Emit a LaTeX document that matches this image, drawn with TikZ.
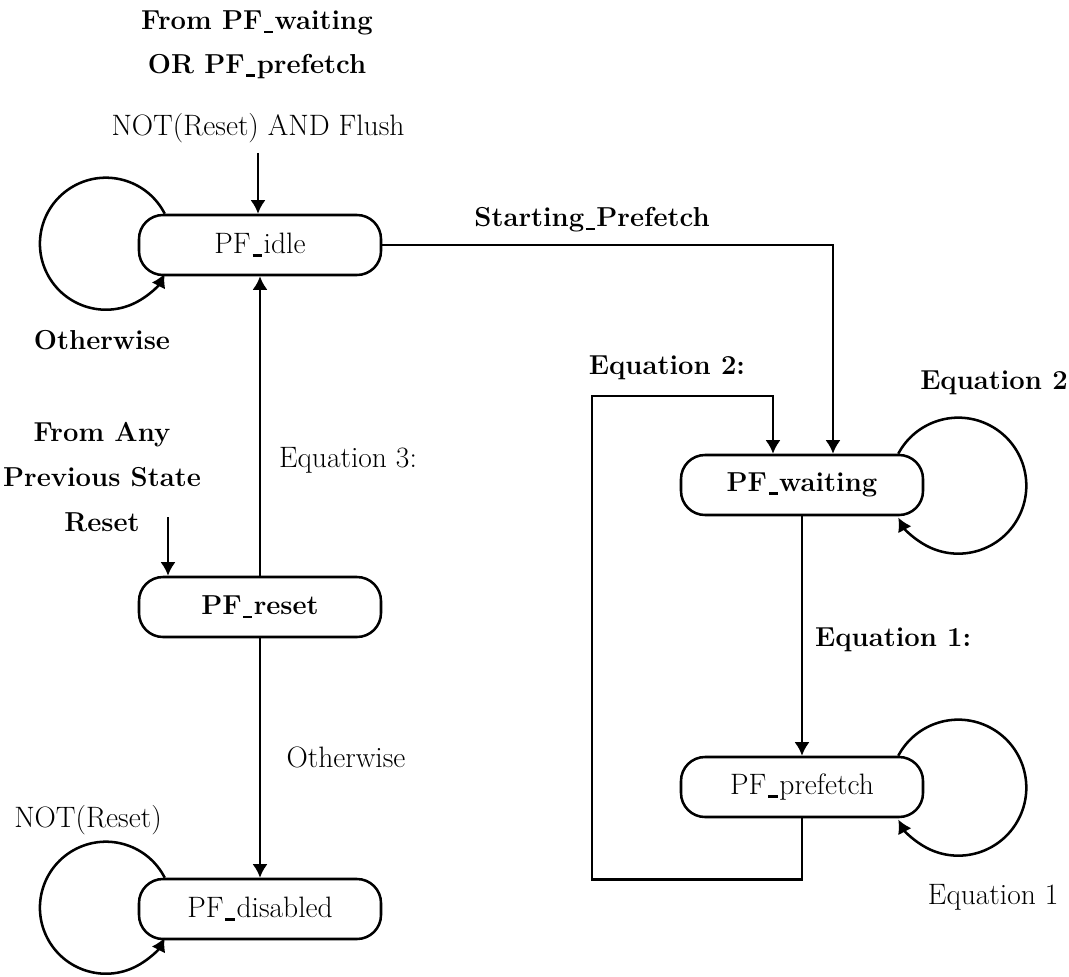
\documentclass[tikz,border=0pt]{standalone}
\usetikzlibrary{arrows.meta}
\newcommand{\usc}{\kern0.06em\rule[-0.12em]{0.32em}{0.09em}\kern0.06em}
\begin{document}
\begin{tikzpicture}[every node/.style={font=\fontsize{21}{31}\selectfont}]
  \tikzstyle{state}=[draw,rounded corners=0.6cm,minimum width=6.05cm,minimum height=1.5cm,line width=1.8pt]
  \tikzstyle{arr}=[line width=1.8pt,-{Latex[length=0.34cm,width=0.38cm]}]
  \tikzstyle{bold}=[font=\fontsize{19.5}{31}\selectfont\bfseries]
  \useasboundingbox (0,0) rectangle (26.725,-24.425);
  % states
  \node[state] (idle) at (6.5,-6.125) {PF\usc idle};
  \node[state] (reset) at (6.5,-15.175) {\fontsize{19.5}{24}\selectfont\bfseries PF\usc reset};
  \node[state] (disabled) at (6.5,-22.725) {PF\usc disabled};
  \node[state] (waiting) at (20.05,-12.125) {\fontsize{19.5}{24}\selectfont\bfseries PF\usc waiting};
  \node[state] (prefetch) at (20.05,-19.675) {PF\usc prefetch};
  % free ends of the entry arrows
  \coordinate (flushsrc) at (6.45,-3.825);
  \coordinate (resetsrc) at (4.2,-12.925);
  % labels
  \node[bold,align=center] (fromwp) at (6.425,-1.125) {From PF\usc waiting\\OR PF\usc prefetch};
  \node (flushlbl) at (6.45,-3.2) {NOT(Reset) AND Flush};
  \node[bold] (idleloop) at (2.55,-8.5) {Otherwise};
  \node[bold,align=center,font=\fontsize{19.5}{32}\selectfont\bfseries] (fromany) at (2.55,-11.925) {From Any\\Previous State\\Reset};
  \node (eqthree) at (8.7,-11.5) {Equation 3:};
  \node (otherw) at (8.65,-18.925) {Otherwise};
  \node (notreset) at (2.2,-20.5) {NOT(Reset)};
  \node[bold] (startlbl) at (14.8,-5.5) {Starting\usc Prefetch};
  \node[bold] (eqtwoc) at (16.675,-9.2) {Equation 2:};
  \node[bold] (eqtwo) at (24.85,-9.575) {Equation 2};
  \node[bold] (eqonec) at (22.33,-16.0) {Equation 1:};
  \node (eqone) at (24.83,-22.425) {Equation 1};
  % transitions
  \draw[arr] (flushsrc) -- (flushsrc |- idle.north);
  \draw[arr] (resetsrc) -- (resetsrc |- reset.north);
  \draw[arr] (reset) -- (idle);
  \draw[arr] (reset) -- (disabled);
  \draw[arr] (waiting) -- (prefetch);
  \draw[arr] (idle.east) -| ([xshift=0.775cm]waiting.north);
  \draw[arr] (prefetch.south) -- ++(0,-1.525) -| (14.8,-9.9) -| ([xshift=-0.725cm]waiting.north);
  % self loops
  \draw[arr] ([xshift=0.675cm]idle.north west) arc[start angle=27,end angle=333,radius=1.65cm];
  \draw[arr] ([xshift=0.675cm]disabled.north west) arc[start angle=27,end angle=333,radius=1.65cm];
  \draw[arr] ([xshift=-0.65cm]waiting.north east) arc[start angle=152,end angle=-152,radius=1.7cm];
  \draw[arr] ([xshift=-0.65cm]prefetch.north east) arc[start angle=152,end angle=-152,radius=1.7cm];
\end{tikzpicture}
\end{document}
